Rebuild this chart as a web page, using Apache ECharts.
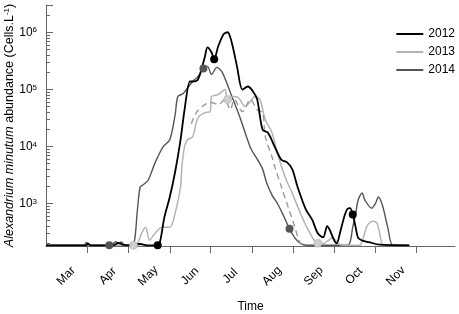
<!DOCTYPE html>
<html>
<head>
<meta charset="utf-8">
<script src="https://cdn.jsdelivr.net/npm/echarts@6/dist/echarts.min.js"></script>
<style>
html, body { margin: 0; padding: 0; background: #fff; }
#chart { width: 459px; height: 314px; }
</style>
</head>
<body>
<div id="chart"></div>
<script>
var monthNames = ['Mar', 'Apr', 'May', 'Jun', 'Jul', 'Aug', 'Sep', 'Oct', 'Nov'];
// day (counted from 1 March) on which each month starts
var monthStarts = [0, 31, 61, 92, 122, 153, 184, 214, 245, 275];
var lastDay = 304;
var yMin = 180;
var yMax = 3000000;

// [day, cells per litre]
var cells2012 = [[0, 185], [30, 185], [31, 200], [33, 185], [50, 185], [54, 205], [57, 190], [62, 185], [70, 195], [75, 185],
    [83, 185], [85, 227], [88, 577], [92, 1300], [96, 3600], [100, 13000], [103, 44000], [107, 137000], [109, 137000],
    [113, 149000], [118, 363000], [120, 545000], [123, 445000], [125, 335000], [128, 567000], [132, 920000], [135, 1000000],
    [138, 670000], [142, 250000], [146, 99000], [150, 112000], [154, 91000], [157, 66000], [161, 19600], [165, 17300],
    [170, 9840], [175, 5800], [179, 5300], [183, 4000], [187, 1945], [193, 800], [198, 510], [202, 300], [206, 256],
    [209, 400], [211, 340], [214, 230], [216, 200], [219, 340], [222, 620], [224, 800], [226, 830], [228, 640], [230, 400],
    [232, 250], [235, 225], [240, 210], [248, 190], [270, 185]];
var cells2013 = [[0, 185], [65, 185], [68, 200], [71, 300], [74, 385], [77, 227], [80, 280], [83, 340], [86, 385], [92, 385],
    [96, 678], [100, 1945], [101, 4500], [103, 10000], [105, 13000], [109, 14760], [111, 22000], [113, 32000], [118, 39000],
    [122, 40600], [123, 74600], [128, 80900], [133, 99000], [135, 66000], [139, 74600], [143, 71800], [148, 49800],
    [153, 66000], [155, 74600], [159, 66000], [163, 29400], [168, 17300], [172, 7500], [178, 2800], [183, 1520], [190, 600],
    [195, 340], [202, 201], [206, 200], [210, 227], [213, 256], [217, 201], [222, 185], [233, 185], [235, 218], [237, 313],
    [239, 417], [243, 490], [246, 452], [248, 301], [251, 185], [270, 185]];
var cells2014 = [[0, 185], [28, 185], [30, 205], [32, 185], [45, 185], [50, 200], [52, 215], [54, 195], [56, 212], [58, 190],
    [64, 185], [66, 240], [68, 800], [70, 1945], [72, 2109], [76, 2582], [81, 5140], [87, 9840], [92, 13060], [96, 36000],
    [98, 74600], [102, 84300], [106, 112000], [109, 137000], [113, 168000], [117, 232000], [120, 252000], [123, 182000],
    [127, 242000], [131, 198000], [137, 88000], [144, 33000], [152, 9500], [157, 6000], [161, 4000], [164, 2300],
    [168, 1400], [172, 1000], [176, 650], [181, 360], [185, 250], [189, 200], [194, 185], [224, 185], [226, 210], [228, 385],
    [230, 625], [232, 1148], [235, 1524], [237, 1148], [242, 830], [245, 1016], [247, 1300], [250, 938], [254, 385],
    [258, 185], [270, 185]];
// dashed curve, not in the legend
var cellsDashed = [[108, 25000], [112, 40000], [118, 54000], [123, 58600], [128, 54000], [133, 66000], [137, 44000],
    [140, 66000], [146, 40600], [152, 66000], [157, 44000], [161, 39000], [163, 14760], [168, 6560], [170, 4400],
    [175, 1945], [180, 865], [185, 385], [189, 201], [193, 185]];

// start / peak / end dots
var dots2012 = [[83, 185], [125, 335000], [228, 640]];
var dots2013 = [[65, 185], [135, 66000], [202, 201]];
var dots2014 = [[47, 185], [117, 232000], [181, 360]];

var days = [];
for (var i = 0; i <= lastDay; i++) {
    days.push(i);
}
var tickDays = monthStarts.slice(1);
var labelDays = monthNames.map(function (m, i) {
    return monthStarts[i] + 15;
});
// 2..9 x 10^n minor ticks of the log axis
var minorValues = [];
for (var p = 100; p <= 1000000; p *= 10) {
    for (var k = 2; k <= 9; k++) {
        if (k * p > yMin && k * p < yMax) {
            minorValues.push(k * p);
        }
    }
}

var font = '"Liberation Sans", Arial, sans-serif';
var axisGrey = '#666';

var chart = echarts.init(document.getElementById('chart'));
var option = {
    animation: false,
    textStyle: {fontFamily: font},
    grid: {left: 46, right: 4, top: 5, bottom: 68, outerBoundsMode: 'none'},
    legend: {
        data: ['2012', '2013', '2014'],
        orient: 'vertical',
        right: 4,
        top: 28,
        padding: 0,
        icon: 'rect',
        itemWidth: 27,
        itemHeight: 2,
        itemGap: 6,
        selectedMode: false,
        textStyle: {fontFamily: font, fontSize: 12, color: '#000'}
    },
    xAxis: {
        type: 'category',
        data: days,
        boundaryGap: false,
        name: 'Time',
        nameLocation: 'middle',
        nameGap: 55,
        nameMoveOverlap: false,
        nameTextStyle: {fontFamily: font, fontSize: 12, color: '#000'},
        axisLine: {lineStyle: {color: axisGrey, width: 1}},
        axisTick: {
            show: true,
            length: 7,
            interval: function (idx) {
                return tickDays.indexOf(idx) >= 0;
            },
            lineStyle: {color: axisGrey}
        },
        axisLabel: {
            interval: function (idx) {
                return labelDays.indexOf(idx) >= 0;
            },
            formatter: function (v, idx) {
                return monthNames[labelDays.indexOf(idx)] || '';
            },
            rotate: 45,
            align: 'center',
            verticalAlign: 'middle',
            margin: 30,
            fontFamily: font,
            fontSize: 12,
            color: '#000'
        },
        splitLine: {show: false}
    },
    yAxis: [
        {
            type: 'log',
            logBase: 10,
            min: yMin,
            max: yMax,
            name: '{i|Alexandrium minutum} abundance (Cells.L{s|-1})',
            nameLocation: 'middle',
            nameGap: 30,
            nameMoveOverlap: false,
            nameTextStyle: {
                fontFamily: font,
                fontSize: 12.5,
                color: '#000',
                rich: {
                    i: {fontFamily: font, fontSize: 12.5, fontStyle: 'italic', color: '#000'},
                    s: {fontFamily: font, fontSize: 8, verticalAlign: 'top', color: '#000'}
                }
            },
            axisLine: {show: true, lineStyle: {color: axisGrey, width: 1}},
            axisTick: {show: true, inside: true, length: 7, lineStyle: {color: axisGrey}},
            axisLabel: {
                margin: 9,
                formatter: function (v) {
                    var e = Math.log10(v);
                    if (Math.abs(e - Math.round(e)) > 1e-6) {
                        return '';
                    }
                    return '{b|10}{e|' + Math.round(e) + '}';
                },
                rich: {
                    b: {fontFamily: font, fontSize: 12, color: '#000'},
                    e: {fontFamily: font, fontSize: 8, verticalAlign: 'top', color: '#000'}
                }
            },
            splitLine: {show: false}
        },
        {
            // same place as the main axis, only carries the short minor ticks
            type: 'log',
            logBase: 10,
            min: yMin,
            max: yMax,
            position: 'left',
            offset: 0,
            axisLine: {show: false},
            axisLabel: {show: false},
            axisTick: {show: true, inside: true, length: 4, customValues: minorValues, lineStyle: {color: axisGrey}},
            splitLine: {show: false}
        }
    ],
    series: [
        {
            name: '2014', type: 'line', data: cells2014, symbol: 'none', smooth: 0.3, z: 2,
            lineStyle: {color: '#555', width: 1.4}, itemStyle: {color: '#555'}
        },
        {
            name: '2013', type: 'line', data: cells2013, symbol: 'none', smooth: 0.3, z: 3,
            lineStyle: {color: '#b4b4b4', width: 1.5}, itemStyle: {color: '#b4b4b4'}
        },
        {
            name: 'dashed', type: 'line', data: cellsDashed, symbol: 'none', smooth: 0.3, z: 3,
            lineStyle: {color: '#9a9a9a', width: 1.4, type: [6, 4]}, itemStyle: {color: '#9a9a9a'}
        },
        {
            name: '2012', type: 'line', data: cells2012, symbol: 'none', smooth: 0.3, z: 4,
            lineStyle: {color: '#000', width: 1.8}, itemStyle: {color: '#000'}
        },
        {
            name: 'dots2014', type: 'scatter', data: dots2014, symbolSize: 8, z: 6,
            itemStyle: {color: '#555', opacity: 1}
        },
        {
            name: 'dots2013', type: 'scatter', data: dots2013, symbolSize: 8, z: 6,
            itemStyle: {color: '#cfcfcf', borderColor: '#aaa', borderWidth: 0.5, opacity: 1}
        },
        {
            name: 'dots2012', type: 'scatter', data: dots2012, symbolSize: 8, z: 6,
            itemStyle: {color: '#000', opacity: 1}
        }
    ]
};
chart.setOption(option);
</script>
</body>
</html>
